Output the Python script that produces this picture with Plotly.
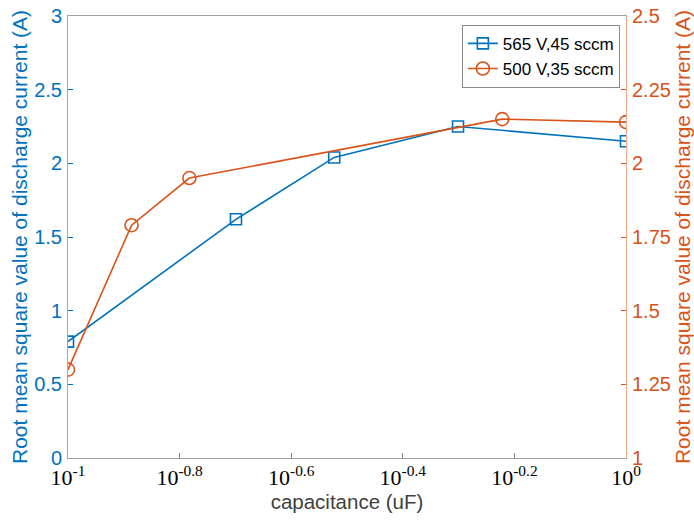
import plotly.graph_objects as go

# Data
cap_a = [0.1, 0.2, 0.3, 0.5, 1.0]
rms_a = [0.79, 1.62, 2.04, 2.25, 2.15]
cap_b = [0.1, 0.13, 0.165, 0.6, 1.0]
rms_b = [1.30, 1.79, 1.95, 2.15, 2.14]
name_a = "565 V,45 sccm"
name_b = "500 V,35 sccm"
xtick_vals = [10**-1, 10**-0.8, 10**-0.6, 10**-0.4, 10**-0.2, 10**0]
xtick_text = ["10<sup>-1</sup>", "10<sup>-0.8</sup>", "10<sup>-0.6</sup>",
              "10<sup>-0.4</sup>", "10<sup>-0.2</sup>", "10<sup>0</sup>"]
yl_ticks = [0, 0.5, 1, 1.5, 2, 2.5, 3]
yl_text = ["0", "0.5", "1", "1.5", "2", "2.5", "3"]
yr_ticks = [1, 1.25, 1.5, 1.75, 2, 2.25, 2.5]
yr_text = ["1", "1.25", "1.5", "1.75", "2", "2.25", "2.5"]

BLUE = "#0072BD"
ORANGE = "#D95319"
SANS = "Liberation Sans, Arial, sans-serif"
SERIF = "Liberation Serif, Times New Roman, serif"
YTITLE = "Root mean square value of discharge current (A)"

fig = go.Figure()
fig.add_trace(go.Scatter(
    x=cap_a, y=rms_a, name=name_a, mode="lines+markers",
    line=dict(color=BLUE, width=1.6),
    marker=dict(symbol="square-open", size=11, color=BLUE, line=dict(width=1.6)),
    yaxis="y"))
fig.add_trace(go.Scatter(
    x=cap_b, y=rms_b, name=name_b, mode="lines+markers",
    line=dict(color=ORANGE, width=1.6),
    marker=dict(symbol="circle-open", size=13, color=ORANGE, line=dict(width=1.6)),
    yaxis="y2"))

fig.update_layout(
    width=694, height=524,
    margin=dict(l=68, r=68, t=16, b=66),
    paper_bgcolor="white", plot_bgcolor="white",
    showlegend=True,
    legend=dict(x=0.989, y=0.98, xanchor="right", yanchor="top",
                bgcolor="white", bordercolor="#8a8a8a", borderwidth=1,
                font=dict(family=SANS, size=17, color="black"),
                tracegroupgap=0, itemwidth=30),
    xaxis=dict(type="log", range=[-1, 0], tickvals=xtick_vals, ticktext=xtick_text,
               automargin=False, ticklabeloverflow="allow",
               ticks="inside", ticklen=5, tickcolor="#808080",
               showline=True, linecolor="#a0a0a0", linewidth=1, mirror=True,
               showgrid=False, zeroline=False,
               tickfont=dict(family=SERIF, size=22, color="black"),
               title=dict(text="capacitance (uF)", standoff=4,
                          font=dict(family=SANS, size=20.5, color="#404040"))),
    yaxis=dict(range=[0, 3], tickvals=yl_ticks, ticktext=yl_text,
               automargin=False, ticklabelstandoff=1, ticklabeloverflow="allow",
               ticks="inside", ticklen=5, tickcolor=BLUE,
               showline=True, linecolor="#7ab4e0", linewidth=1,
               showgrid=False, zeroline=False,
               tickfont=dict(family=SANS, size=20, color=BLUE),
               title=dict(text=YTITLE, standoff=0,
                          font=dict(family=SANS, size=21, color=BLUE))),
    yaxis2=dict(range=[1, 2.5], tickvals=yr_ticks, ticktext=yr_text,
                overlaying="y", side="right", anchor="x",
                automargin=False, ticklabelstandoff=1, ticklabeloverflow="allow",
                ticks="inside", ticklen=5, tickcolor=ORANGE,
                showline=True, linecolor="#f0a888", linewidth=1,
                showgrid=False, zeroline=False,
                tickfont=dict(family=SANS, size=20, color=ORANGE),
                title=dict(text=YTITLE, standoff=9,
                           font=dict(family=SANS, size=21, color=ORANGE))),
)

# remove the default page margin so the figure fills the window exactly
fig.write_html("out.html", config={"displayModeBar": False},
               post_script="document.body.style.margin='0';")
